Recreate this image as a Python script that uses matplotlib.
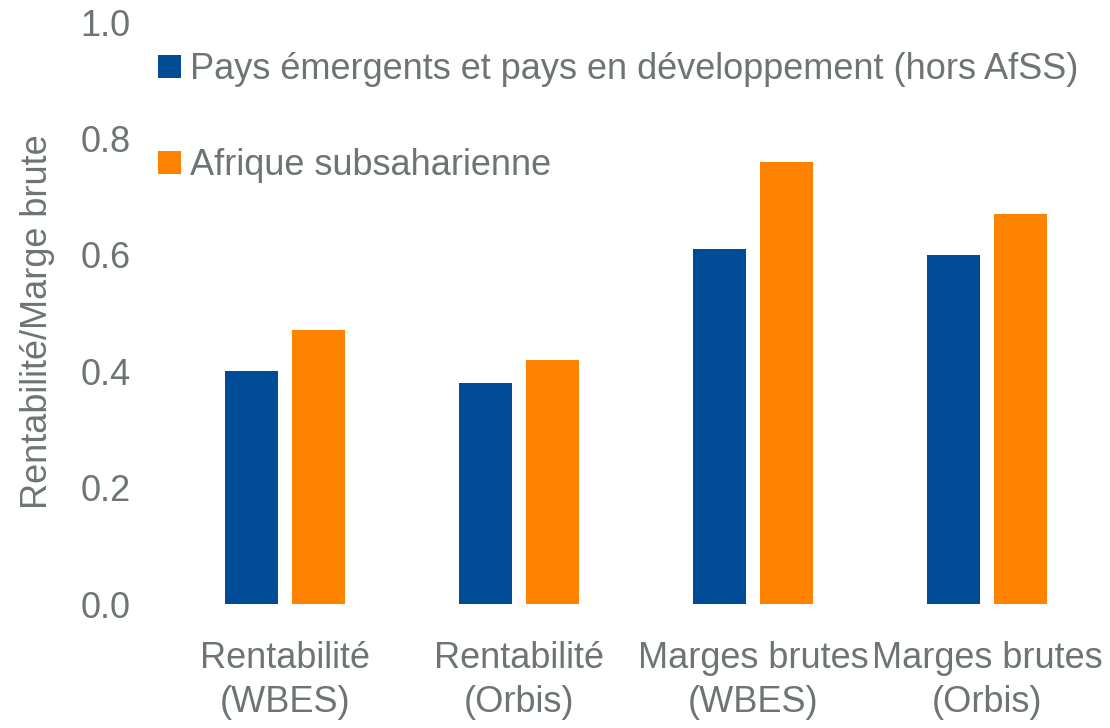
import matplotlib
matplotlib.use("Agg")
import matplotlib.pyplot as plt
from matplotlib import font_manager
import numpy as np

categories = ["Rentabilité\n(WBES)", "Rentabilité\n(Orbis)", "Marges brutes\n(WBES)", "Marges brutes\n(Orbis)"]
series_names = ["Pays émergents et pays en développement (hors AfSS)", "Afrique subsaharienne"]
emerging = [0.40, 0.38, 0.61, 0.60]
ssa = [0.47, 0.42, 0.76, 0.67]
yticks = [0.0, 0.2, 0.4, 0.6, 0.8, 1.0]

names = {f.name for f in font_manager.fontManager.ttflist}
fam = "Liberation Sans Narrow" if "Liberation Sans Narrow" in names else "Liberation Sans"
plt.rcParams['font.family'] = [fam, 'DejaVu Sans']

gray = "#6d7573"
blue = "#004C97"
orange = "#FF8200"

fig = plt.figure(figsize=(11.1, 7.28), dpi=100)
ax = fig.add_axes([168/1110, 1-604/728, (1104-168)/1110, (604-22)/728])

x = np.arange(len(categories))
w = 0.227
off = 0.143
ax.bar(x - off, emerging, w, color=blue, label=series_names[0])
ax.bar(x + off, ssa, w, color=orange, label=series_names[1])

ax.set_xlim(-0.5, 3.5)
ax.set_ylim(0, 1.0)
ax.set_yticks(yticks)
ax.set_yticklabels([f"{v:.1f}" for v in yticks])
ax.set_xticks(x)
ax.set_xticklabels(categories, linespacing=1.3)
ax.tick_params(axis='y', length=0, pad=27, labelsize=26, labelcolor=gray)
ax.tick_params(axis='x', length=0, pad=27, labelsize=26, labelcolor=gray)
for s in ax.spines.values():
    s.set_visible(False)
ax.set_ylabel("Rentabilité/Marge brute", fontsize=26, color=gray)
ax.yaxis.set_label_coords(-0.121, 0.485)

leg = ax.legend(loc='upper left', bbox_to_anchor=(158/1110, 1-52/728), bbox_transform=fig.transFigure,
                frameon=False, fontsize=26, labelspacing=1.7, handlelength=0.65, handleheight=0.62,
                handletextpad=0.25, borderaxespad=0, borderpad=0)
for t in leg.get_texts():
    t.set_color(gray)

fig.savefig("out.png", dpi=100)
